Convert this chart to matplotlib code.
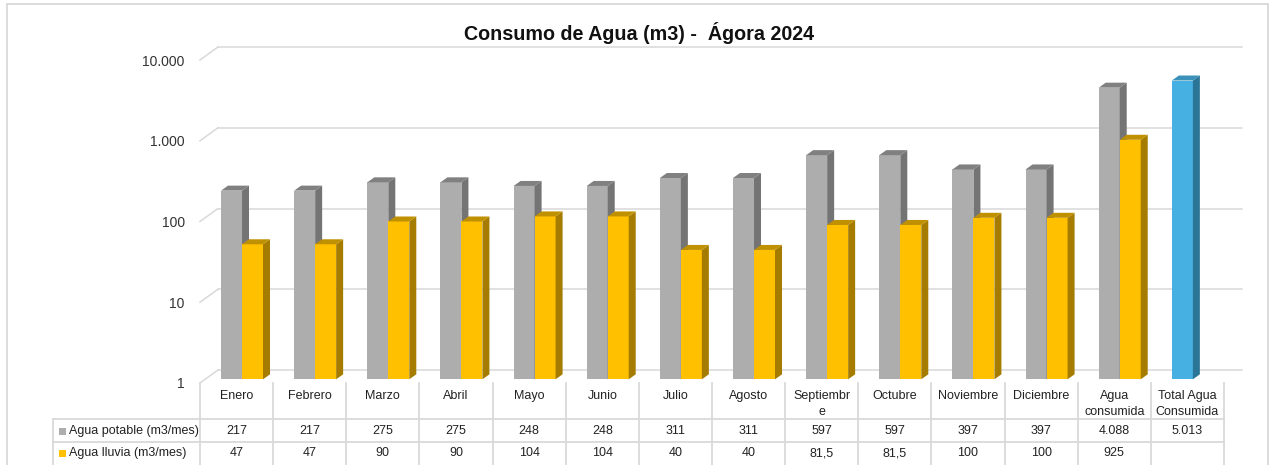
#!/usr/bin/env python3

import matplotlib
matplotlib.use('Agg')
import matplotlib.pyplot as plt
from matplotlib.transforms import ScaledTranslation, IdentityTransform, blended_transform_factory
from matplotlib.patches import Polygon, Rectangle
from matplotlib.lines import Line2D
from matplotlib.ticker import NullLocator

# data
categories = ['Enero', 'Febrero', 'Marzo', 'Abril', 'Mayo', 'Junio', 'Julio', 'Agosto',
              'Septiembr\ne', 'Octubre', 'Noviembre', 'Diciembre', 'Agua\nconsumida',
              'Total Agua\nConsumida']
potable = [217, 217, 275, 275, 248, 248, 311, 311, 597, 597, 397, 397, 4088, 5013]
lluvia = [47, 47, 90, 90, 104, 104, 40, 40, 81.5, 81.5, 100, 100, 925, None]
series_names = ['Agua potable (m3/mes)', 'Agua lluvia (m3/mes)']
title = 'Consumo de Agua (m3) -  Ágora 2024'
yticks = [1, 10, 100, 1000, 10000]

# faces: front, side, top
gray = ('#ADADAD', '#747474', '#808080')
yellow = ('#FFC000', '#A67C00', '#BF9000')
blue = ('#45B0E1', '#2B7597', '#3A92BB')

W, H = 1271, 465
DPI = 100
NARROW = ['Liberation Sans Narrow', 'Liberation Sans', 'DejaVu Sans']
plt.rcParams['font.family'] = ['Liberation Sans', 'DejaVu Sans']


def fx(px):
    return px / W


def fy(py):
    return 1 - py / H


def es_num(v):
    # spanish formatting: dot for thousands, comma for decimals
    if v is None:
        return ''
    if float(v).is_integer():
        return f'{int(v):,}'.replace(',', '.')
    return str(v).replace('.', ',')


fig = plt.figure(figsize=(W / DPI, H / DPI), dpi=DPI)
ax = fig.add_axes([fx(200), fy(383), 1024 / W, 323 / H])
ax.set_yscale('log')
ax.set_xlim(0, len(categories))
ax.set_ylim(1, 10000)
for s in ax.spines.values():
    s.set_visible(False)
ax.set_xticks([])
ax.set_yticks(yticks, labels=[es_num(v) for v in yticks])
ax.yaxis.set_minor_locator(NullLocator())
ax.tick_params(axis='y', length=0, pad=11, labelsize=10, labelcolor='#333333')

# back wall gridlines, shifted up/right for the 3d look
wall_dx, wall_dy = 18, 13
wall = ax.transData + ScaledTranslation(wall_dx / DPI, wall_dy / DPI, fig.dpi_scale_trans)
for v in yticks:
    ax.plot([0, len(categories)], [v, v], transform=wall, color='#D9D9D9', lw=1.1,
            clip_on=False, zorder=0)
    px, py = ax.transData.transform((0, v))
    ax.add_line(Line2D([px, px + wall_dx], [py, py + wall_dy], transform=IdentityTransform(),
                       color='#D9D9D9', lw=1.1, clip_on=False, zorder=0))

# bars: front face with ax.bar, side/top faces as polygons in pixel space
bar_dx, bar_dy = 7, 5
front = ax.transData + ScaledTranslation(5 / DPI, 3.7 / DPI, fig.dpi_scale_trans)
width = 0.287
offsets = [0.219, 0.506]


def draw_3d(x, vals, colors_for):
    for i, v in enumerate(vals):
        if v is None:
            continue
        fc = colors_for(i)
        ax.bar(x[i], v - 1, bottom=1, width=width, align='edge', color=fc[0],
               transform=front, clip_on=False, zorder=3 + i * 0.01)
        (x0, y0), (x1, y1) = front.transform([(x[i], 1), (x[i] + width, v)])
        side = [(x1, y0), (x1, y1), (x1 + bar_dx, y1 + bar_dy), (x1 + bar_dx, y0 + bar_dy)]
        top = [(x0, y1), (x1, y1), (x1 + bar_dx, y1 + bar_dy), (x0 + bar_dx, y1 + bar_dy)]
        ax.add_patch(Polygon(side, closed=True, transform=IdentityTransform(), facecolor=fc[1],
                             edgecolor='none', clip_on=False, zorder=3 + i * 0.01))
        ax.add_patch(Polygon(top, closed=True, transform=IdentityTransform(), facecolor=fc[2],
                             edgecolor='none', clip_on=False, zorder=3 + i * 0.01))


n = len(categories)
draw_3d([i + offsets[0] for i in range(n)], potable,
        lambda i: blue if i == n - 1 else gray)
draw_3d([i + offsets[1] for i in range(n)], lluvia, lambda i: yellow)
ax.set_xlim(0, n)
ax.set_ylim(1, 10000)

# title
fig.text(fx(639), fy(33), title, ha='center', va='center', fontsize=14.2, fontweight='bold',
         color='#111111')

# data table
grid_c = '#D9D9D9'
right_px = ax.transData.transform((n, 1))[0]
ident = IdentityTransform()


def hline(py, x0, x1):
    fig.add_artist(Line2D([x0, x1], [H - py, H - py], transform=ident, color=grid_c, lw=1.3))


def vline(px, py0, py1):
    fig.add_artist(Line2D([px, px], [H - py0, H - py1], transform=ident, color=grid_c, lw=1.3))


for k in range(n + 1):
    vline(ax.transData.transform((k, 1))[0], 383, H + 2)
vline(53, 419, H + 2)
hline(419, 53, right_px)
hline(442, 53, right_px)

colx = blended_transform_factory(ax.transData, fig.transFigure)
for i, c in enumerate(categories):
    fig.text(i + 0.5, fy(390), c, transform=colx, ha='center', va='top', fontsize=9,
             family=NARROW, linespacing=1.45, color='#222222')
    fig.text(i + 0.5, fy(431), es_num(potable[i]), transform=colx, ha='center', va='center',
             fontsize=9, family=NARROW, color='#222222')
    fig.text(i + 0.5, fy(453), es_num(lluvia[i]), transform=colx, ha='center', va='center',
             fontsize=9, family=NARROW, color='#222222')

for row_y, name, fc in [(431, series_names[0], gray[0]), (453, series_names[1], yellow[0])]:
    fig.add_artist(Rectangle((59, H - row_y - 3.5), 7, 7, transform=ident, facecolor=fc,
                             edgecolor='none'))
    fig.text(fx(69), fy(row_y), name, ha='left', va='center', fontsize=9, family=NARROW,
             color='#222222')

# chart area border
fig.add_artist(Line2D([7, 1268], [H - 4, H - 4], transform=ident, color=grid_c, lw=1.3))
vline(7, 4, H + 2)
vline(1268, 4, H + 2)

fig.savefig('out.png', dpi=DPI)
